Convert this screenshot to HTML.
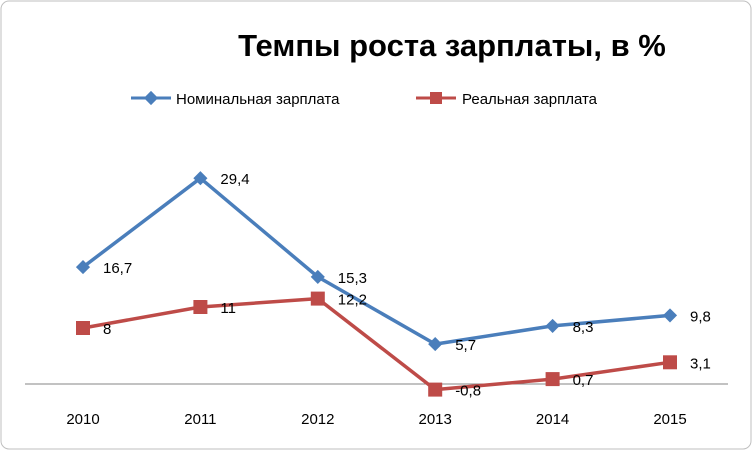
<!DOCTYPE html>
<html><head><meta charset="utf-8"><style>
html,body{margin:0;padding:0;background:#fff;}
svg{display:block;font-family:"Liberation Sans","DejaVu Sans",sans-serif;}
</style></head><body>
<svg id="chart" width="753" height="451">
<rect x="1" y="1" width="750" height="448" rx="8" fill="#fff" stroke="#bfbfbf"/>
<text x="452" y="56" text-anchor="middle" font-size="31" font-weight="bold" fill="#000">Темпы роста зарплаты, в %</text>
<g>
<g>
<line x1="131" y1="98" x2="171" y2="98" stroke="#4a7ebb" stroke-width="3"/>
<rect x="146" y="93" width="10" height="10" fill="#4a7ebb" transform="rotate(45 151 98)"/>
<text x="176" y="104" font-size="15" fill="#000">Номинальная зарплата</text>
</g>
<g>
<line x1="416" y1="98" x2="456" y2="98" stroke="#be4b48" stroke-width="3"/>
<rect x="430" y="92" width="12" height="12" fill="#be4b48"/>
<text x="462" y="104" font-size="15" fill="#000">Реальная зарплата</text>
</g>
</g>
<line x1="25" y1="384" x2="728" y2="384" stroke="#868686" stroke-width="1"/>
<g id="xticks"></g>
<g id="series"></g>
</svg>
<script>
const years = ["2010","2011","2012","2013","2014","2015"];
const nominal = [16.7, 29.4, 15.3, 5.7, 8.3, 9.8];
const real = [8, 11, 12.2, -0.8, 0.7, 3.1];
const nominalLabels = ["16,7","29,4","15,3","5,7","8,3","9,8"];
const realLabels = ["8","11","12,2","-0,8","0,7","3,1"];

const NS = "http://www.w3.org/2000/svg";
function xPos(i){ return 83 + i * 117.4; }
function yPos(v){ return 384 - v * 7.0; }
function mk(tag, attrs, parent){
  const e = document.createElementNS(NS, tag);
  for (const k in attrs) e.setAttribute(k, attrs[k]);
  parent.appendChild(e);
  return e;
}
const xt = document.getElementById('xticks');
years.forEach((y, i) => {
  const t = mk('text', {x: xPos(i), y: 424, 'text-anchor': 'middle', 'font-size': 15, fill: '#000'}, xt);
  t.textContent = y;
  
  
});
const sg = document.getElementById('series');
function drawSeries(vals, labels, color, marker, name){
  const g = mk('g', {}, sg);
  
  
  const pts = vals.map((v, i) => xPos(i) + ',' + yPos(v)).join(' ');
  const pl = mk('polyline', {points: pts, fill: 'none', stroke: color, 'stroke-width': 3.5, 'stroke-linejoin': 'round'}, g);
  
  
  vals.forEach((v, i) => {
    const cx = xPos(i), cy = yPos(v);
    let m;
    if (marker === 'diamond') {
      m = mk('rect', {x: cx - 5, y: cy - 5, width: 10, height: 10, fill: color, transform: 'rotate(45 ' + cx + ' ' + cy + ')'}, g);
    } else {
      m = mk('rect', {x: cx - 7, y: cy - 7, width: 14, height: 14, fill: color}, g);
    }
    
    
    const t = mk('text', {x: cx + 20, y: cy + 6, 'font-size': 15, fill: '#000'}, g);
    t.textContent = labels[i];
    
    
  });
}
drawSeries(nominal, nominalLabels, '#4a7ebb', 'diamond', 'nominal');
drawSeries(real, realLabels, '#be4b48', 'square', 'real');
</script>
</body></html>
